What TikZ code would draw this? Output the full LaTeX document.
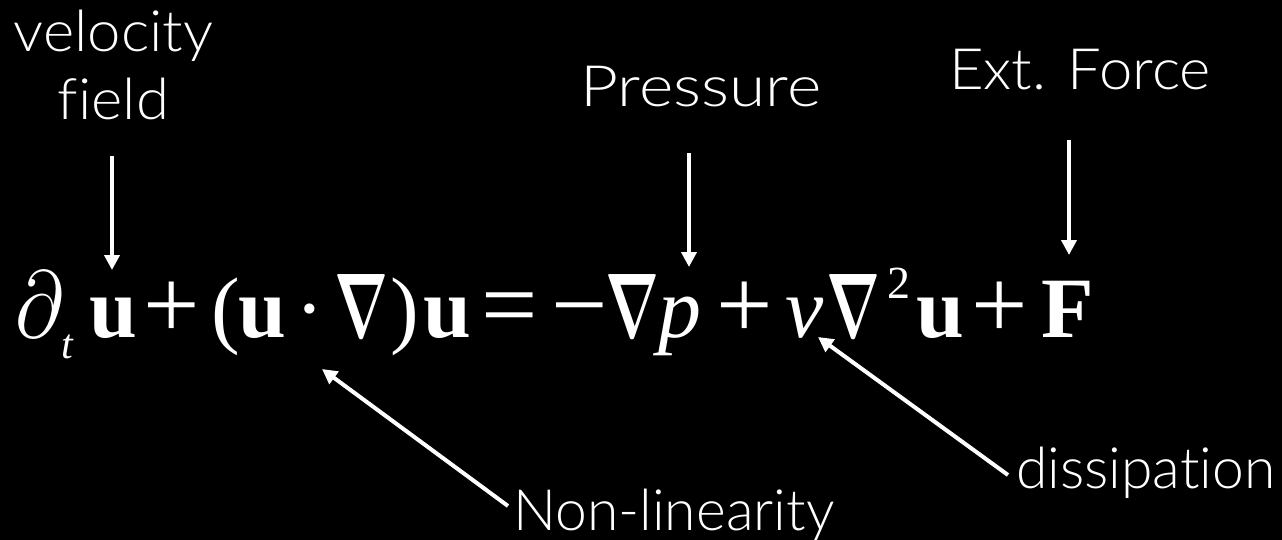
\documentclass[tikz,border=0pt]{standalone}
\usepackage{fontspec}
\usepackage{graphicx}
\usepackage{amsmath}
\usetikzlibrary{arrows.meta}
\newfontfamily\lblfont{Lato Light}[Ligatures=NoCommon,FakeStretch=1.05]
\newfontfamily\lblfontn{Lato Light}[Ligatures=NoCommon]
\newfontfamily\eqfont{Liberation Serif}
\begin{document}
\begin{tikzpicture}[x=1pt,y=-1pt,
  lbl/.style={text=white,font=\lblfont\fontsize{57}{68}\selectfont,inner sep=0pt,align=center},
  lbln/.style={lbl,font=\lblfontn\fontsize{57}{68}\selectfont},
  eq/.style={text=white,font=\eqfont\fontsize{86}{90}\selectfont,inner sep=0pt,anchor=base},
  eqo/.style={eq,font=\eqfont\fontsize{100}{104}\selectfont},
  eqb/.style={eq,font=\eqfont\bfseries\fontsize{86}{90}\selectfont},
  eqi/.style={eq,font=\eqfont\itshape\fontsize{86}{90}\selectfont},
  arr/.style={draw=white,line width=4pt,-{Triangle[length=15pt,width=15pt]}}]
\fill[black] (0,0) rectangle (1282,540);
\useasboundingbox (0,0) rectangle (1282,540);
% equation
\node[eq] (d) at (40,337) {\resizebox{48pt}{66pt}{$\partial$}};
\node[eqi,font=\eqfont\itshape\fontsize{42}{44}\selectfont] (t) at (67,358) {t};
\node[eqb] (u1) at (113,337) {u};
\node[eqo] (p1) at (171.5,338) {+};
\node[eq] (lp) at (226,337) {(};
\node[eqb] (u2) at (262,337) {u};
\node[eq] (dot) at (310,337) {·};
\node[eq] (n1) at (361,337) {\resizebox{54pt}{63pt}{$\boldsymbol{\nabla}$}};
\node[eq] (rp) at (405,337) {)};
\node[eqb] (u3) at (447,337) {u};
\node[eqo] (eqs) at (510,338) {=};
\node[eqo] (mi) at (580,338) {−};
\node[eq] (n2) at (632,337) {\resizebox{54pt}{63pt}{$\boldsymbol{\nabla}$}};
\node[eqi] (p) at (680,337) {p};
\node[eqo] (p2) at (745,338) {+};
\node[eqi] (nu) at (805,337) {ν};
\node[eq] (n3) at (853,337) {\resizebox{54pt}{63pt}{$\boldsymbol{\nabla}$}};
\node[eq,font=\eqfont\fontsize{46}{50}\selectfont] (sq) at (899,298) {2};
\node[eqb] (u4) at (940,337) {u};
\node[eqo] (p3) at (1000,338) {+};
\node[eqb] (F) at (1068,337) {F};
% labels
\node[lbl] (vel) at (113.5,65) {velocity\\field};
\node[lbl,anchor=base] (pres) at (701,107) {\scalebox{1.1}[1]{Pressure}};
\node[lbl,anchor=base] (ext) at (1080,90) {Ext. Force};
\node[lbln,anchor=base west] (nonlin) at (513,530) {Non-linearity};
\node[lbln,anchor=base west] (diss) at (1016,488) {dissipation};
% arrow ends
\coordinate (velT) at (112,156);
\coordinate (velH) at (112,270);
\coordinate (presT) at (689,153);
\coordinate (presH) at (689,267);
\coordinate (extT) at (1069,140);
\coordinate (extH) at (1069,255);
\coordinate (nlT) at (508,506);
\coordinate (nlH) at (322,369);
\coordinate (diT) at (1008,475);
\coordinate (diH) at (818,337);
\draw[arr] (velT) -- (velH);
\draw[arr] (presT) -- (presH);
\draw[arr] (extT) -- (extH);
\draw[arr] (nlT) -- (nlH);
\draw[arr] (diT) -- (diH);
\end{tikzpicture}
\end{document}
